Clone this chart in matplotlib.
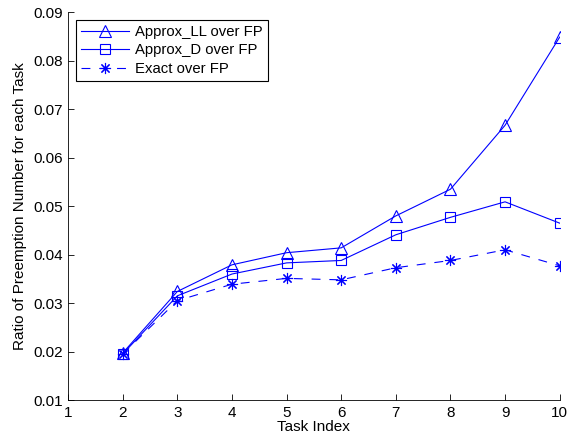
import matplotlib
matplotlib.use("Agg")
import matplotlib.pyplot as plt

task_index = [2, 3, 4, 5, 6, 7, 8, 9, 10]
approx_ll = [0.0197, 0.0324, 0.0379, 0.0404, 0.0414, 0.0480, 0.0535, 0.0667, 0.0849]
approx_d = [0.0195, 0.0315, 0.0360, 0.0383, 0.0388, 0.0441, 0.0477, 0.0509, 0.0465]
exact = [0.0195, 0.0305, 0.0339, 0.0351, 0.0348, 0.0373, 0.0388, 0.0410, 0.0377]
labels = ["Approx_LL over FP", "Approx_D over FP", "Exact over FP"]

plt.rcParams['font.family'] = ['Liberation Sans', 'DejaVu Sans']
fig = plt.figure(figsize=(5.77, 4.42), dpi=100)
ax = fig.add_axes([0.118, 0.095, 0.852, 0.877])

ax.plot(task_index, approx_ll, color='blue', lw=0.8, marker='^', ms=8,
        mfc='none', mec='blue', mew=0.8, label=labels[0])
ax.plot(task_index, approx_d, color='blue', lw=0.8, marker='s', ms=6.5,
        mfc='none', mec='blue', mew=0.8, label=labels[1])
ax.plot(task_index, exact, color='blue', lw=0.8, ls=(0, (8, 8)), marker=(8, 2, 0), ms=8,
        mfc='none', mec='blue', mew=0.8, label=labels[2])

ax.set_xlim(1, 10)
ax.set_ylim(0.01, 0.09)
ax.set_xticks(range(1, 11))
ax.set_yticks([0.01, 0.02, 0.03, 0.04, 0.05, 0.06, 0.07, 0.08, 0.09])
ax.set_yticklabels(["0.01", "0.02", "0.03", "0.04", "0.05", "0.06", "0.07", "0.08", "0.09"])
ax.tick_params(direction='in', labelsize=11, length=4, width=0.6, pad=4)
ax.spines['top'].set_visible(False)
ax.spines['right'].set_visible(False)
for s in ['left', 'bottom']:
    ax.spines[s].set_linewidth(0.6)

ax.set_xlabel("Task Index", fontsize=11, labelpad=0)
ax.set_ylabel("Ratio of Preemption Number for each Task", fontsize=11, labelpad=4)

leg = ax.legend(loc='upper left', bbox_to_anchor=(0.0163, 0.981), borderaxespad=0,
                fontsize=10.7, fancybox=False, framealpha=1, edgecolor='black',
                handlelength=3.2, handletextpad=0.4, borderpad=0.35,
                labelspacing=0.3)
leg.get_frame().set_linewidth(0.8)

fig.savefig("out.png", dpi=100)
